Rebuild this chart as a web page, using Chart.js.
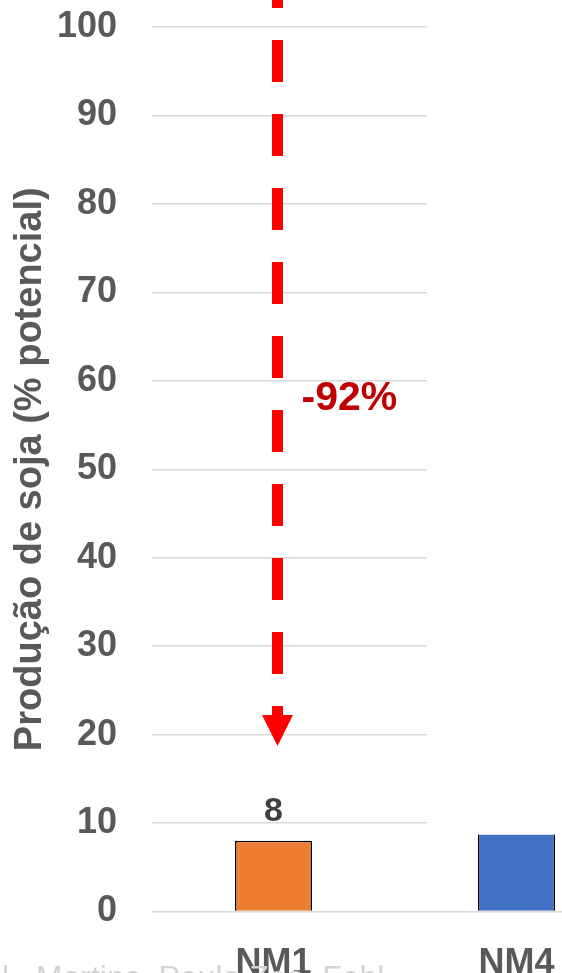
<!DOCTYPE html>
<html>
<head>
<meta charset="utf-8">
<script src="https://cdn.jsdelivr.net/npm/chart.js@4.4.0/dist/chart.umd.min.js"></script>
<style>
  html, body { margin: 0; padding: 0; background: #fff; overflow: hidden; width: 562px; height: 973px; }
  #wrap { position: relative; width: 640px; height: 973px; }
</style>
</head>
<body>
<div id="wrap"><canvas id="chart-1" width="640" height="973"></canvas></div>
<script>
// data
const categories = ["NM1", "NM4"];
const production = [8, 8.7];
const barColors = ["#ED7D31", "#4472C4"];
const valueLabels = ["8", ""];
const yMin = 0, yMax = 100, yStep = 10;
const reductionText = "-92%";
const reductionAt = 58;      // y value where the % label sits
const arrowTip = 18.7;       // y value of the arrow point
const sourceText = "l., Martins, Paulo Zea, Fabl";

const FONT = "'Liberation Sans', Arial, sans-serif";
const GREY = "#595959";

const annotations = {
  id: "annotations",
  beforeDatasetsDraw(chart) {
    // grid lines above 0 stop short of the right edge in the original
    const { ctx } = chart;
    const y = chart.scales.y;
    ctx.save();
    ctx.fillStyle = "#fff";
    ctx.fillRect(427, 0, chart.width, y.getPixelForValue(5));
    ctx.restore();
  },
  afterDatasetsDraw(chart) {
    const { ctx } = chart;
    const x = chart.scales.x, y = chart.scales.y;
    const ax = x.getPixelForValue(0) + 4;
    const tip = y.getPixelForValue(arrowTip);
    const base = tip - 31;

    ctx.save();
    // dashed red arrow
    ctx.strokeStyle = "#FF0000";
    ctx.lineWidth = 11;
    ctx.setLineDash([42, 32]);
    ctx.beginPath();
    ctx.moveTo(ax, -34);
    ctx.lineTo(ax, base);
    ctx.stroke();
    ctx.setLineDash([]);
    ctx.fillStyle = "#FF0000";
    ctx.beginPath();
    ctx.moveTo(ax - 15.5, base);
    ctx.lineTo(ax + 15.5, base);
    ctx.lineTo(ax, tip);
    ctx.closePath();
    ctx.fill();

    // -92%
    ctx.fillStyle = "#C00000";
    ctx.font = "bold 41px " + FONT;
    ctx.textAlign = "left";
    ctx.textBaseline = "middle";
    ctx.fillText(reductionText, ax + 24, y.getPixelForValue(reductionAt));

    // value labels
    const meta = chart.getDatasetMeta(0);
    ctx.fillStyle = "#404040";
    ctx.font = "bold 34px " + FONT;
    ctx.textAlign = "center";
    ctx.textBaseline = "alphabetic";
    meta.data.forEach((bar, i) => {
      if (valueLabels[i]) ctx.fillText(valueLabels[i], bar.x, bar.y - 20);
    });
    ctx.restore();
  },
  afterDraw(chart) {
    const { ctx } = chart;
    ctx.save();
    ctx.fillStyle = "#D4D4D4";
    ctx.font = "32px " + FONT;
    ctx.textAlign = "left";
    ctx.textBaseline = "alphabetic";
    ctx.fillText(sourceText, 2, 988);
    ctx.restore();
  }
};

const ctx1 = document.getElementById("chart-1").getContext("2d");
const myChart = new Chart(ctx1, {
  type: "bar",
  data: {
    labels: categories,
    datasets: [
      {
        label: "Produção de soja",
        data: production,
        backgroundColor: barColors,
        borderColor: "#000",
        borderWidth: [1.5, { left: 1.5, right: 1.5, top: 0, bottom: 0 }],
        barPercentage: 0.317,
        categoryPercentage: 1,
      },
    ],
  },
  options: {
    responsive: false,
    devicePixelRatio: 1,
    animation: false,
    layout: { padding: { top: 27, right: 2, left: 0, bottom: 0 } },
    plugins: { legend: { display: false }, tooltip: { enabled: false } },
    scales: {
      x: {
        grid: { display: false },
        border: { display: false },
        ticks: { color: GREY, font: { family: FONT, size: 36, weight: "bold" }, padding: 23 },
        afterFit(scale) {
          scale.height = 61.5;
          scale.paddingLeft = 0;
          scale.paddingRight = 0;
        },
      },
      y: {
        min: yMin,
        max: yMax,
        ticks: {
          stepSize: yStep,
          color: GREY,
          font: { family: FONT, size: 36, weight: "bold" },
          padding: 35,
        },
        grid: { color: "#D9D9D9", lineWidth: 1.5, drawTicks: false, tickLength: 0 },
        border: { display: false },
        title: {
          display: true,
          text: "Produção de soja (% potencial)",
          color: GREY,
          font: { family: FONT, size: 38, weight: "bold" },
          padding: { top: 8, bottom: 0 },
        },
        afterFit(scale) {
          scale.width = 152;
          scale.paddingTop = 0;
          scale.paddingBottom = 0;
        },
      },
    },
  },
  plugins: [annotations],
});
</script>
</body>
</html>
